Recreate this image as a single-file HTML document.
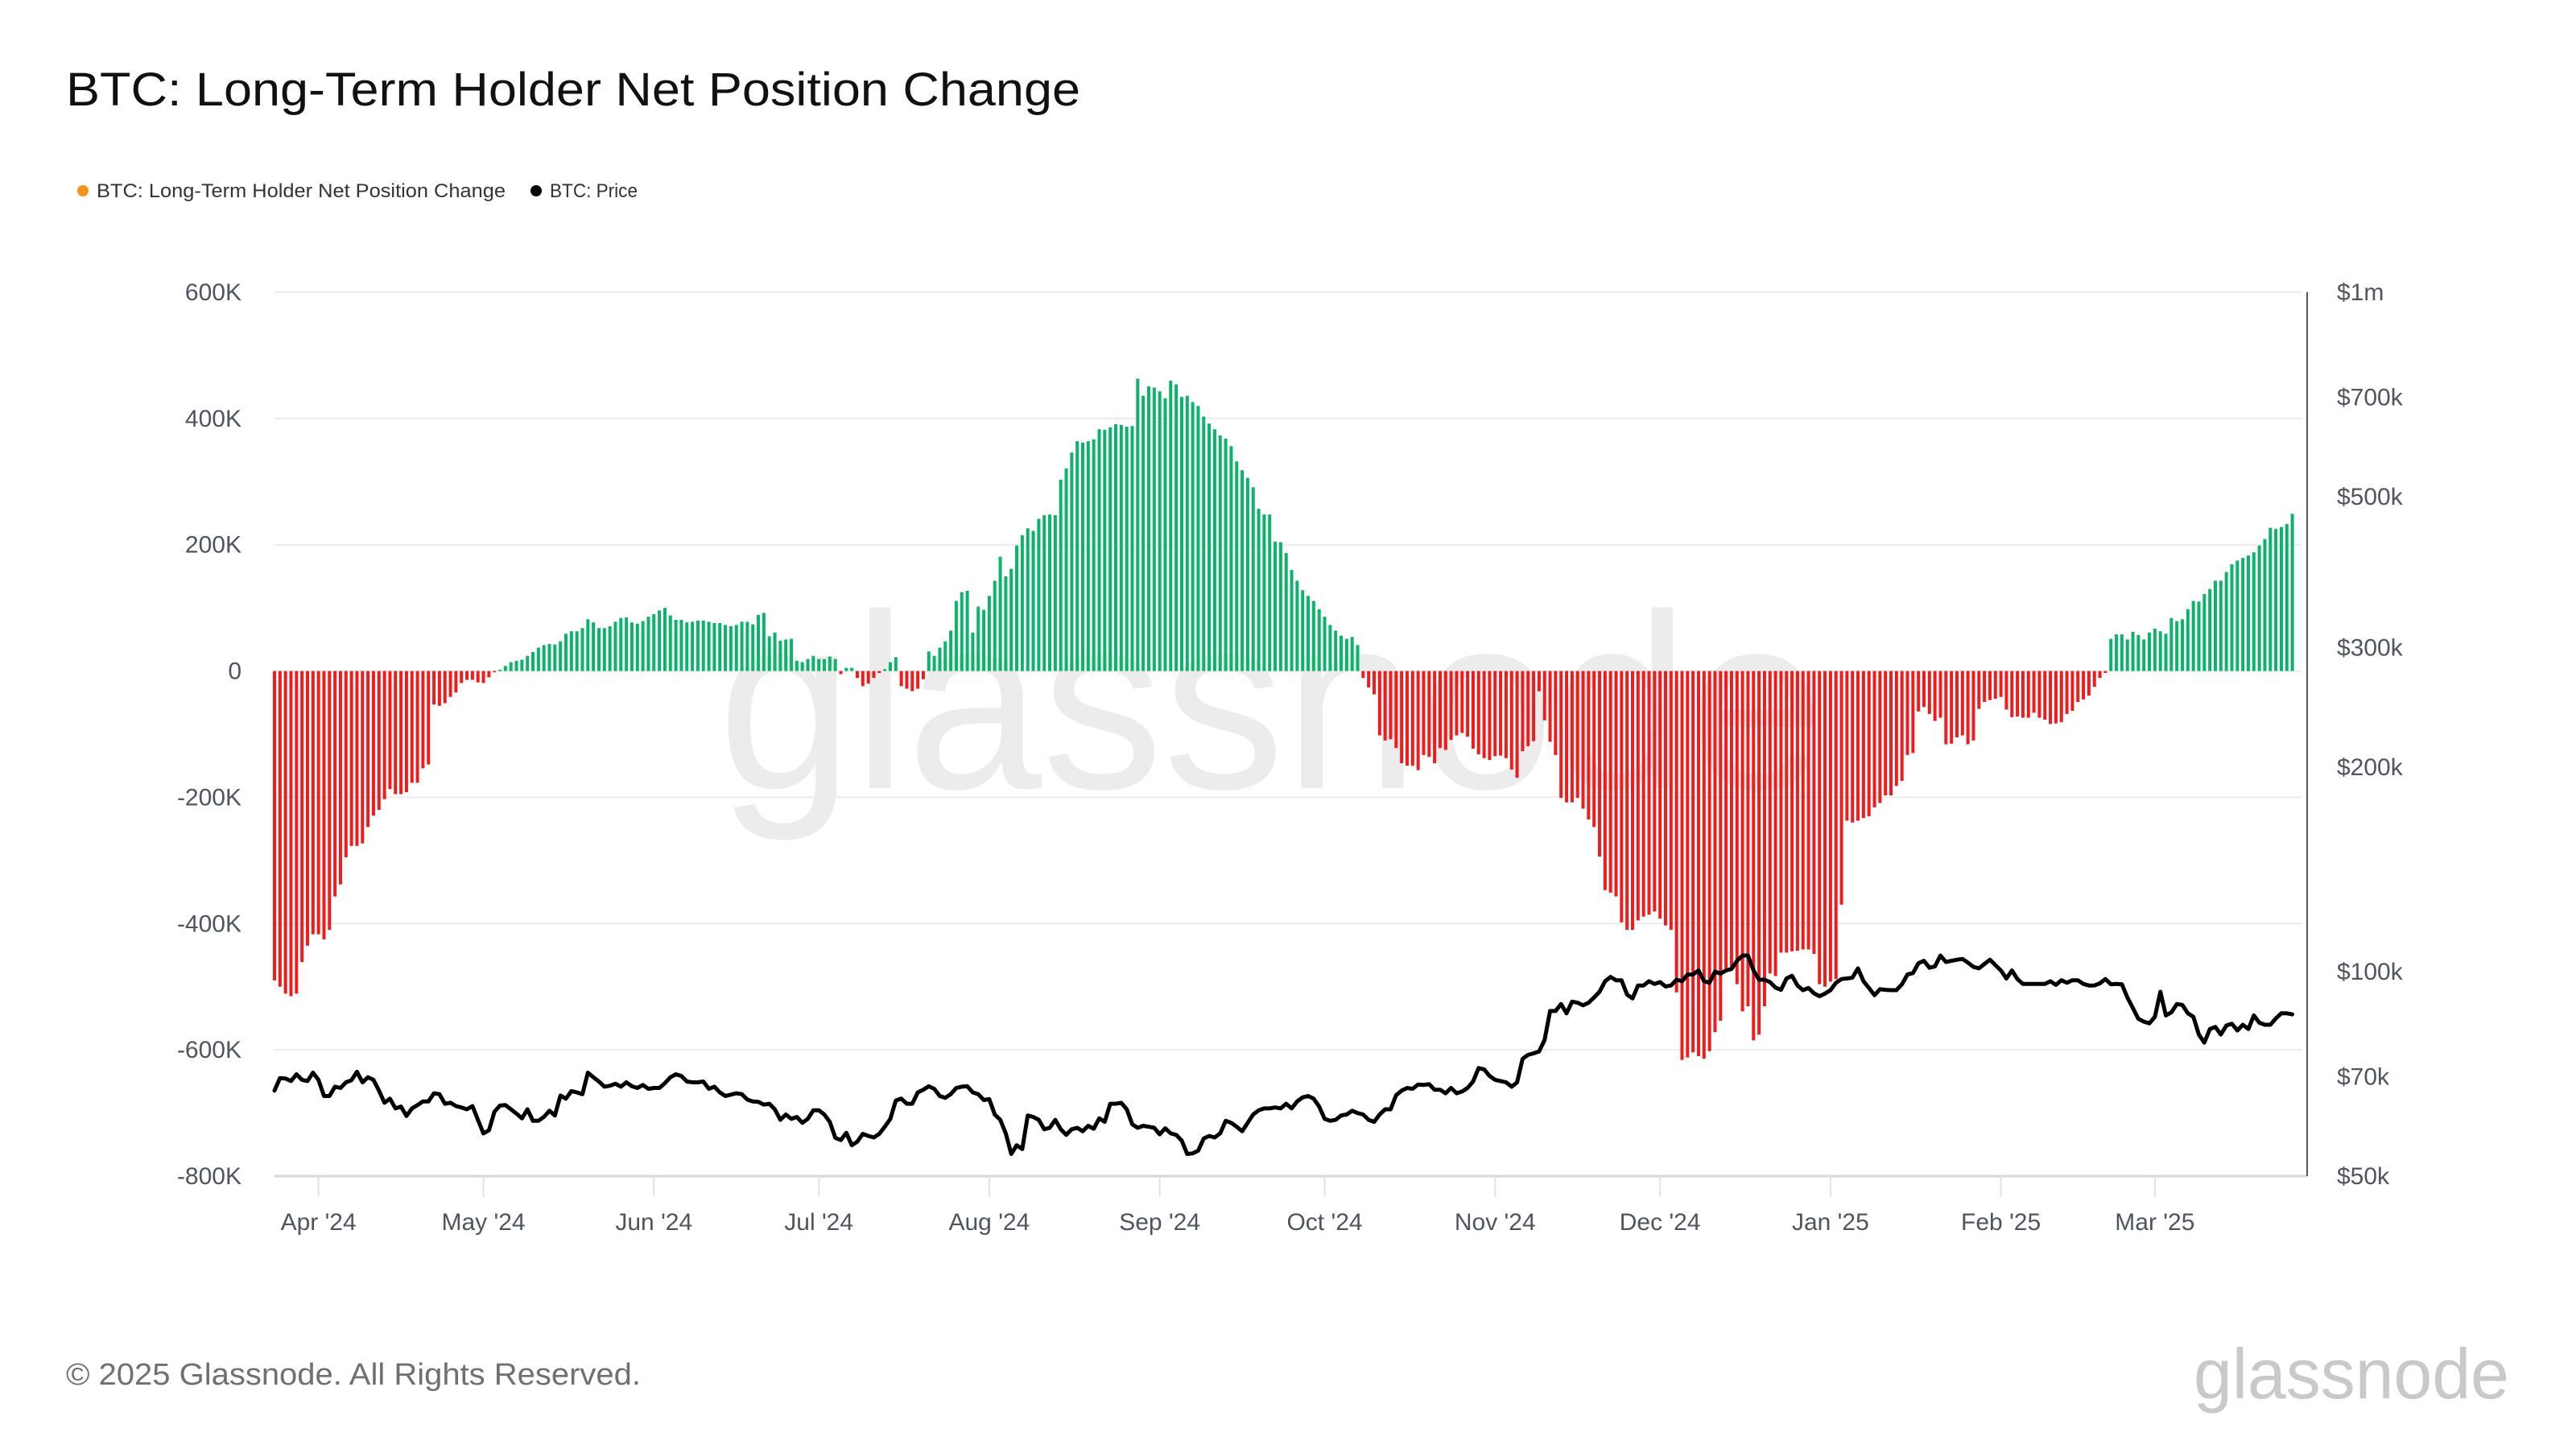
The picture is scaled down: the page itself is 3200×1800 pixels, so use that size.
<!DOCTYPE html>
<html>
<head>
<meta charset="utf-8">
<style>
  html, body { margin: 0; padding: 0; background: #ffffff; }
  body { width: 3200px; height: 1800px; overflow: hidden; font-family: "Liberation Sans", "DejaVu Sans", sans-serif; }
  svg { display: block; }
</style>
</head>
<body>
<svg id="chart" width="3200" height="1800" viewBox="0 0 3200 1800" xmlns="http://www.w3.org/2000/svg">
  <rect x="0" y="0" width="3200" height="1800" fill="#ffffff"/>
  <text x="82" y="131" font-size="58" fill="#111111" textLength="1260" lengthAdjust="spacingAndGlyphs" font-family="Liberation Sans, sans-serif">BTC: Long-Term Holder Net Position Change</text>

  <g>
    <g>
      <circle cx="103" cy="237" r="7" fill="#f7931a"/>
      <text x="120" y="245" font-size="24" fill="#333333" textLength="508" lengthAdjust="spacingAndGlyphs">BTC: Long-Term Holder Net Position Change</text>
    </g>
    <g>
      <circle cx="666" cy="237" r="7" fill="#000000"/>
      <text x="683" y="245" font-size="24" fill="#333333" textLength="109" lengthAdjust="spacingAndGlyphs">BTC: Price</text>
    </g>
  </g>

  <text x="892" y="979" font-size="310" fill="#ececec" textLength="1374" lengthAdjust="spacingAndGlyphs">glassnode</text>

  <g id="grid"></g>
  <g id="bars"></g>
  <g id="price"></g>
  <g id="axes"></g>

  <text x="82" y="1720" font-size="38" fill="#707070" textLength="714" lengthAdjust="spacingAndGlyphs">© 2025 Glassnode. All Rights Reserved.</text>
  <text x="2725" y="1737" font-size="88" fill="#c9c9c9" textLength="392" lengthAdjust="spacingAndGlyphs">glassnode</text>
</svg>
<script>
// ---- data ----
const startDate = "2024-03-24";
const netPositionK = [
-490,-500,-511,-515,-511,-461,-435,-417,-417,-425,-410,-357,-338,-295,-277,-277,-273,-247,-229,-220,
-203,-187,-195,-195,-192,-177,-177,-154,-148,-53,-55,-51,-41,-34,-19,-14,-14,-18,-19,-10,
-2,2,8,14,16,18,24,30,37,41,43,42,47,59,63,63,68,82,77,68,
68,71,78,84,85,77,75,79,86,90,96,100,88,81,81,77,78,80,80,78,
76,76,73,71,73,78,78,74,89,92,55,61,48,50,51,16,14,19,24,19,
19,23,19,-5,5,5,-11,-24,-20,-11,-3,3,14,22,-24,-28,-32,-28,-13,31,
24,37,47,64,111,125,127,61,102,97,119,143,181,150,162,199,215,226,222,241,
247,248,247,303,321,346,364,362,364,367,383,382,386,391,390,387,388,463,436,451,
449,443,432,460,454,434,436,426,420,403,392,383,373,368,356,332,318,306,291,257,
248,248,205,204,187,160,143,128,119,111,98,86,73,64,56,51,54,41,-11,-26,
-37,-102,-110,-108,-122,-146,-150,-150,-157,-133,-136,-146,-122,-125,-109,-102,-98,-104,-123,-132,
-138,-141,-135,-134,-138,-156,-169,-127,-119,-111,-32,-78,-112,-133,-201,-208,-208,-201,-218,-235,
-247,-294,-347,-351,-357,-398,-410,-410,-395,-389,-386,-381,-392,-403,-410,-509,-616,-612,-604,-610,
-614,-602,-572,-554,-471,-471,-496,-539,-531,-585,-576,-531,-479,-483,-446,-446,-444,-443,-441,-441,
-448,-496,-500,-492,-488,-370,-237,-240,-237,-233,-230,-216,-209,-197,-197,-182,-174,-133,-130,-64,
-57,-68,-79,-74,-116,-115,-105,-102,-116,-110,-60,-49,-46,-44,-41,-61,-73,-72,-74,-74,
-66,-74,-77,-84,-83,-81,-68,-63,-49,-45,-39,-25,-11,-3,51,58,58,50,62,57,
50,61,67,63,59,84,79,82,98,111,110,122,130,143,143,157,169,175,179,183,
188,199,209,227,225,228,233,249
];
const priceK = [
66.8,69.7,69.6,69.0,70.6,69.3,69.0,71.0,69.3,65.6,65.6,67.7,67.4,68.7,69.2,71.2,68.7,69.9,69.3,66.8,
64.1,65.0,62.9,63.3,61.3,62.9,63.6,64.4,64.4,66.2,66.0,63.9,64.1,63.4,63.1,62.7,63.4,60.5,57.8,58.4,
62.2,63.5,63.6,62.7,61.8,60.8,62.7,60.3,60.3,61.1,62.4,61.4,65.7,65.0,66.7,66.4,66.0,71.0,69.9,68.9,
67.7,67.9,68.4,67.7,68.7,67.8,67.4,68.1,67.2,67.4,67.4,68.5,69.9,70.6,70.2,68.9,68.7,68.7,68.9,67.2,
67.7,66.4,65.6,65.9,66.2,66.0,64.8,64.4,64.3,63.7,63.9,62.7,60.5,61.6,60.7,61.1,59.9,60.7,62.5,62.5,
61.6,60.1,56.9,56.5,57.9,55.5,56.2,57.7,57.3,57.0,57.7,59.1,60.7,64.6,65.0,63.9,63.9,66.4,67.0,67.8,
67.2,65.6,65.2,66.0,67.4,67.7,67.8,66.4,66.0,64.7,64.9,61.6,60.5,57.8,53.9,55.5,54.8,61.4,61.1,60.5,
58.6,58.9,60.5,58.6,57.5,58.6,58.9,58.2,59.3,58.7,60.8,60.1,63.9,63.9,64.1,62.7,59.6,58.9,59.3,59.1,
58.9,57.6,58.8,57.8,57.5,56.4,53.9,54.0,54.5,56.8,57.3,57.0,57.8,60.3,59.9,59.1,58.2,59.9,61.6,62.5,
62.9,62.9,63.1,62.9,63.9,62.9,64.4,65.3,65.6,65.0,63.3,60.7,60.3,60.5,61.4,61.6,62.4,61.9,61.6,60.5,
60.1,61.6,62.7,62.7,65.8,66.8,67.4,67.2,68.2,68.1,68.3,67.0,67.0,66.2,67.4,66.2,66.6,67.4,68.9,72.1,
71.8,70.2,69.3,69.0,68.7,67.7,68.7,74.4,75.4,75.8,76.3,79.3,87.5,87.5,89.6,86.8,90.3,90.0,89.2,90.0,
91.6,93.4,96.8,98.2,97.1,97.1,92.5,91.3,95.4,95.4,96.8,95.9,96.5,95.1,95.4,97.3,96.8,99.0,99.0,100.4,
96.8,96.3,100.0,99.3,100.4,100.9,103.7,105.6,105.6,100.4,97.3,97.3,96.5,94.7,94.0,97.7,98.6,95.4,93.9,94.6,
92.9,92.0,92.8,93.9,96.3,97.5,97.7,98.0,101.1,96.8,94.6,92.3,94.2,94.0,93.9,93.9,95.8,99.0,99.5,102.9,
103.7,101.3,101.8,105.6,103.3,103.7,104.1,104.4,103.1,101.6,101.1,102.6,104.1,102.2,100.4,97.7,100.4,97.5,95.9,95.9,
95.9,95.9,95.9,96.8,95.6,97.1,96.3,97.1,97.1,95.9,95.4,95.4,96.1,97.5,95.8,95.9,95.8,91.6,88.4,85.2,
84.4,83.9,85.8,93.4,86.2,87.1,89.6,89.3,86.8,85.8,80.8,78.6,82.3,82.9,80.8,83.3,83.8,81.9,83.5,82.3,
86.2,84.1,83.5,83.5,85.3,86.8,86.8,86.5
];
const leftTickValuesK = [600, 400, 200, 0, -200, -400, -600, -800];
const leftTickLabels = ["600K", "400K", "200K", "0", "-200K", "-400K", "-600K", "-800K"];
const rightTickValuesK = [1000, 700, 500, 300, 200, 100, 70, 50];
const rightTickLabels = ["$1m", "$700k", "$500k", "$300k", "$200k", "$100k", "$70k", "$50k"];
const monthTickDates = ["2024-04-01","2024-05-01","2024-06-01","2024-07-01","2024-08-01","2024-09-01","2024-10-01","2024-11-01","2024-12-01","2025-01-01","2025-02-01","2025-03-01"];
const monthTickLabels = ["Apr '24","May '24","Jun '24","Jul '24","Aug '24","Sep '24","Oct '24","Nov '24","Dec '24","Jan '25","Feb '25","Mar '25"];

// ---- scales ----
const NS = "http://www.w3.org/2000/svg";
const plotLeft = 341, plotRight = 2866, plotTop = 363, plotBottom = 1461;
const dayWidth = 6.83;
const day0 = Date.parse(startDate + "T00:00:00Z");
function xDay(i) { return plotLeft + i * dayWidth; }
function xDate(s) { return xDay((Date.parse(s + "T00:00:00Z") - day0) / 86400000); }
const leftMin = -800, leftMax = 600;
function yLeft(v) { return plotBottom - (v - leftMin) / (leftMax - leftMin) * (plotBottom - plotTop); }
const logMin = Math.log10(50), logMax = Math.log10(1000);
function yRight(v) { return plotBottom - (Math.log10(v) - logMin) / (logMax - logMin) * (plotBottom - plotTop); }

function mk(tag, attrs, parent) {
  const el = document.createElementNS(NS, tag);
  for (const k in attrs) el.setAttribute(k, attrs[k]);
  parent.appendChild(el);
  return el;
}

const grid = document.getElementById("grid");
const axes = document.getElementById("axes");
const barsG = document.getElementById("bars");
const priceG = document.getElementById("price");

leftTickValuesK.forEach((v, i) => {
  const y = yLeft(v);
  if (i !== leftTickValuesK.length - 1) {
    const gl = mk("line", {x1: plotLeft, x2: plotRight - 6, y1: y, y2: y, stroke: "#ececec", "stroke-width": 2}, grid);
    
    
  }
  const t = mk("text", {x: 300, y: y + 10, "text-anchor": "end", "font-size": 30, fill: "#4f5461"}, axes);
  t.textContent = leftTickLabels[i];
  
  
});
rightTickValuesK.forEach((v, i) => {
  const y = yRight(v);
  const t = mk("text", {x: 2903, y: y + 10, "font-size": 30, fill: "#4f5461"}, axes);
  t.textContent = rightTickLabels[i];
  
  
});
const xl = mk("line", {x1: plotLeft, x2: plotRight, y1: plotBottom, y2: plotBottom, stroke: "#d6d6d6", "stroke-width": 3}, axes);


const rl = mk("line", {x1: plotRight, x2: plotRight, y1: plotTop, y2: plotBottom, stroke: "#555555", "stroke-width": 2}, axes);


monthTickDates.forEach((d, i) => {
  const x = xDate(d);
  const tk = mk("line", {x1: x, x2: x, y1: plotBottom, y2: plotBottom + 26, stroke: "#e3e3e3", "stroke-width": 2}, axes);
  
  
  const t = mk("text", {x: x, y: 1528, "text-anchor": "middle", "font-size": 30, fill: "#4f5461"}, axes);
  t.textContent = monthTickLabels[i];
  
  
});

const y0 = yLeft(0);
netPositionK.forEach((v, i) => {
  const x = xDay(i);
  const y = yLeft(v);
  const r = mk("rect", {x: x - 2, y: Math.min(y, y0), width: 4, height: Math.max(Math.abs(y - y0), 1), fill: v >= 0 ? "#0db26b" : "#ee1c1c"}, barsG);
  
  
});

let dPath = "";
priceK.forEach((v, i) => {
  dPath += (i === 0 ? "M" : "L") + xDay(i).toFixed(1) + " " + yRight(v).toFixed(1) + " ";
});
const pl = mk("path", {d: dPath, fill: "none", stroke: "#000000", "stroke-width": 5, "stroke-linejoin": "round", "stroke-linecap": "round"}, priceG);


</script>
</body>
</html>
